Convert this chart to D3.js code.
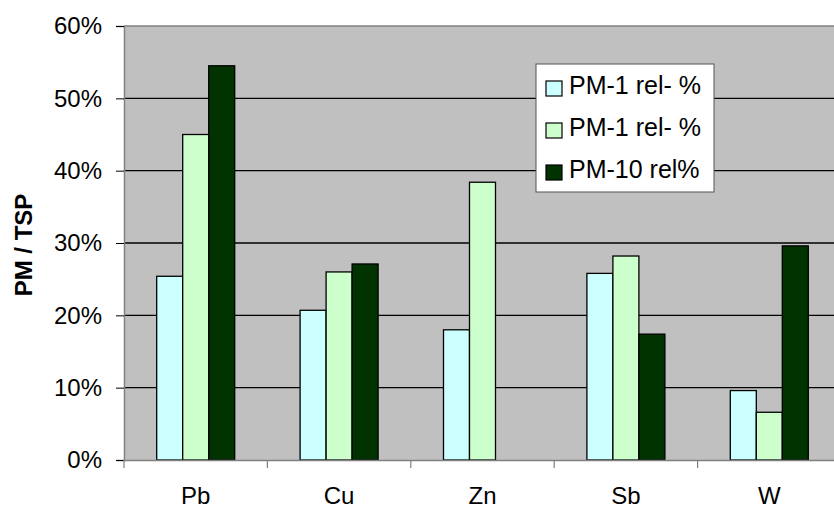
<!DOCTYPE html>
<html><head><meta charset="utf-8">
<script src="https://cdn.jsdelivr.net/npm/d3@7"></script>
<style>body{margin:0;background:#fff}svg{display:block}text{font-family:Arial,"Liberation Sans",sans-serif}</style>
</head><body><svg id="c" width="834" height="508"></svg>
<script>
const categories = ["Pb","Cu","Zn","Sb","W"];
const seriesNames = ["PM-1 rel- %","PM-1 rel- %","PM-10 rel%"];
const seriesColors = ["#CCFFFF","#CCFFCC","#003300"];
const pm1a = [25.4, 20.7, 18.0, 25.8, 9.6];
const pm1b = [45.0, 26.0, 38.4, 28.2, 6.6];
const pm10 = [54.5, 27.1, 0, 17.4, 29.6];
const yTicks = [0,10,20,30,40,50,60];
const series = [pm1a, pm1b, pm10];

const svg = d3.select("#c");
const L = 124, R = 841, T = 26, B = 460;
const x = d3.scaleBand().domain(categories).range([L, R]).paddingInner(0).paddingOuter(0);
const y = d3.scaleLinear().domain([0,60]).range([B, T]);
const bw = 26;

svg.append("rect").attr("x",L).attr("y",T).attr("width",R-L).attr("height",B-T).attr("fill","#C0C0C0");
// gridlines
svg.append("g").selectAll("line").data(yTicks.slice(1,-1)).join("line")
  .attr("x1",L).attr("x2",R).attr("y1",d=>y(d)).attr("y2",d=>y(d)).attr("stroke","#000").attr("stroke-width",1.3);
svg.append("line").attr("x1",L).attr("x2",R).attr("y1",T).attr("y2",T).attr("stroke","#808080").attr("stroke-width",1.5);

// bars
series.forEach((s,si)=>{
  svg.append("g").selectAll("rect").data(categories.map((c,i)=>({c,v:s[i]})).filter(d=>d.v>0)).join("rect")
    .attr("x",d=>x(d.c)+x.bandwidth()/2-1.5*bw+si*bw)
    .attr("y",d=>y(d.v)).attr("width",bw).attr("height",d=>B-y(d.v))
    .attr("fill",seriesColors[si]).attr("stroke","#000").attr("stroke-width",1.3);
});

// y axis
const ya = svg.append("g").attr("transform",`translate(${L},0)`)
  .call(d3.axisLeft(y).tickValues(yTicks).tickFormat(d=>d+"%").tickSize(8).tickPadding(14));
ya.select(".domain").attr("stroke","#808080").attr("stroke-width",1.5);
ya.selectAll(".tick line").attr("stroke","#000");
ya.selectAll("text").attr("font-size",24).attr("fill","#000");

// x axis
const xa = svg.append("g").attr("transform",`translate(0,${B})`)
  .call(d3.axisBottom(x).tickSize(0).tickPadding(27));
xa.select(".domain").attr("stroke","#808080").attr("stroke-width",1.5);
xa.selectAll("text").attr("font-size",24).attr("fill","#000");
svg.append("g").selectAll("line").data(categories.slice(1)).join("line")
  .attr("x1",d=>x(d)).attr("x2",d=>x(d)).attr("y1",B).attr("y2",B+8).attr("stroke","#808080").attr("stroke-width",1.2);
svg.append("line").attr("x1",L).attr("x2",L).attr("y1",B).attr("y2",B+8).attr("stroke","#808080").attr("stroke-width",1.2);

// y title
svg.append("text").attr("transform",`translate(32,${245}) rotate(-90)`)
  .attr("text-anchor","middle").attr("font-size",24).attr("font-weight","bold").text("PM / TSP");

// legend
const lg = svg.append("g");
lg.append("rect").attr("x",536).attr("y",64).attr("width",178).attr("height",128)
  .attr("fill","#fff").attr("stroke","#555").attr("stroke-width",1);
seriesNames.forEach((n,i)=>{
  const base = 94 + i*42;
  lg.append("rect").attr("x",546).attr("y",base-13).attr("width",16).attr("height",15)
    .attr("fill",seriesColors[i]).attr("stroke","#000").attr("stroke-width",1.2);
  lg.append("text").attr("x",569).attr("y",base).attr("font-size",25).text(n);
});
</script></body></html>
